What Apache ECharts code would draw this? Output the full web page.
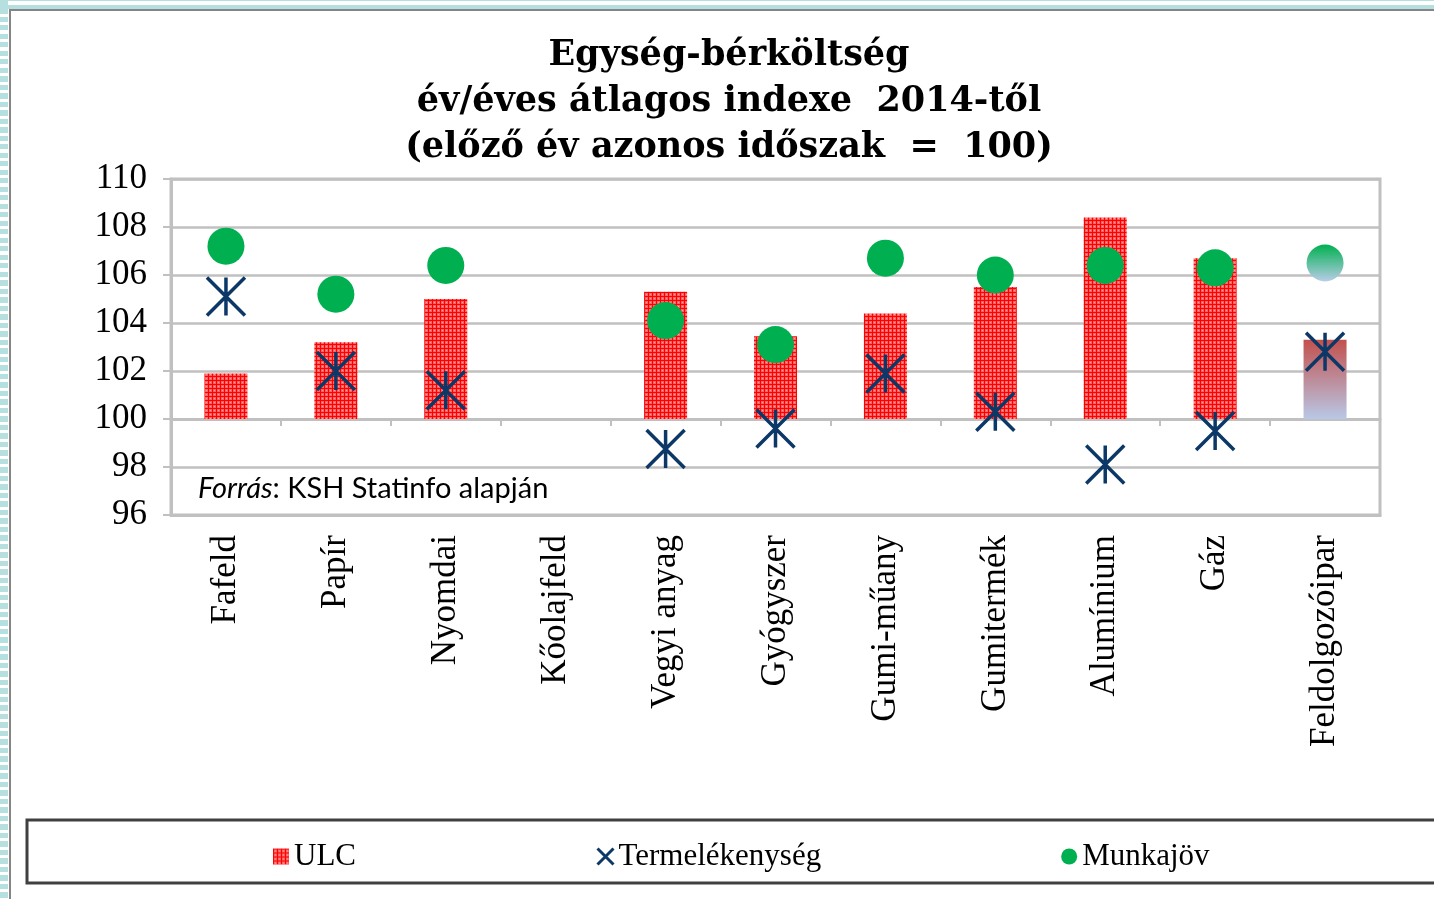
<!DOCTYPE html>
<html>
<head>
<meta charset="utf-8">
<script src="https://cdn.jsdelivr.net/npm/echarts@6/dist/echarts.min.js"></script>
<style>
    html, body { margin: 0; padding: 0; background: #fff; }
    #stripes { position: absolute; left: 0; top: 0; width: 8px; height: 899px;
        background: repeating-linear-gradient(to bottom, #b6dfe0 0 5px, #fff 5px 8.5px); }
    #topLine1 { position: absolute; left: 0; top: 0; width: 1434px; height: 1px; background: #b6dfe0; }
    #topLine2 { position: absolute; left: 0; top: 5px; width: 1434px; height: 4px; background: #b6dfe0; }
    #frame { position: absolute; left: 9px; top: 9px; width: 1430px; height: 895px;
        border-left: 2px solid #858585; border-top: 2px solid #858585; }
    #chart { position: absolute; left: 0; top: 0; width: 1434px; height: 899px; }
</style>
</head>
<body>
<div id="stripes"></div>
<div id="topLine1"></div>
<div id="topLine2"></div>
<div id="frame"></div>
<div id="chart"></div>
<script>
const categories = ['Fafeld', 'Papír', 'Nyomdai', 'Kőolajfeld', 'Vegyi anyag', 'Gyógyszer',
    'Gumi-műany', 'Gumitermék', 'Alumínium', 'Gáz', 'Feldolgozóipar'];
const ulc = [101.9, 103.2, 105.0, null, 105.3, 103.45, 104.4, 105.5, 108.4, 106.7, 103.3];
const termelekenyseg = [105.1, 102.0, 101.2, null, 98.75, 99.6, 101.9, 100.3, 98.1, 99.5, 102.8];
const munkajov = [107.2, 105.2, 106.4, null, 104.1, 103.1, 106.7, 106.0, 106.4, 106.3, 106.5];
const yMin = 96, yMax = 110, yStep = 2;
const baseValue = 100;
const titleLines = ['Egység-bérköltség', 'év/éves átlagos indexe  2014-től', '(előző év azonos időszak  =  100)'];

// piros kockás mintázat az oszlopokhoz
function makePattern() {
    const c = document.createElement('canvas');
    c.width = 4; c.height = 4;
    const ctx = c.getContext('2d');
    ctx.fillStyle = '#ff6464';
    ctx.fillRect(0, 0, 4, 4);
    ctx.fillStyle = '#ff0000';
    ctx.fillRect(0, 0, 4, 1);
    ctx.fillRect(0, 0, 1, 4);
    ctx.fillStyle = '#ffa0a0';
    ctx.fillRect(2, 2, 1, 1);
    return c;
}

const lastIdx = categories.length - 1;
const redPattern = { image: makePattern(), repeat: 'repeat' };

const baseData = ulc.map(v => v == null ? null : baseValue);
const ulcData = ulc.map((v, i) => {
    if (v == null) return null;
    if (i === lastIdx) {
        return {
            value: v - baseValue,
            itemStyle: { color: new echarts.graphic.LinearGradient(0, 0, 0, 1, [
                { offset: 0, color: '#c2504d' }, { offset: 1, color: '#b8c8e6' }]) }
        };
    }
    return v - baseValue;
});
const munkaData = munkajov.map((v, i) => {
    if (i === lastIdx) {
        return {
            value: v,
            itemStyle: { color: new echarts.graphic.LinearGradient(0, 0, 0, 1, [
                { offset: 0, color: '#00b050' }, { offset: 1, color: '#b9cde8' }]) }
        };
    }
    return v;
});

const asterisk = 'path://M0,0L10,10M10,0L0,10M5,0L5,10';
const fontSerif = '"Liberation Serif", serif';

let myChart = echarts.init(document.getElementById('chart'));

const option = {
    animation: false,
    graphic: [
        {
            type: 'text', x: 729, y: 33, silent: true,
            style: {
                text: titleLines.join('\n'), align: 'center',
                font: 'bold 35px "DejaVu Serif", serif', lineHeight: 46, fill: '#000'
            }
        },
        {
            type: 'text', x: 198, y: 474, silent: true,
            style: {
                text: '{i|Forrás}: KSH Statinfo alapján',
                font: '29px Lato, sans-serif', fill: '#000',
                rich: { i: { fontStyle: 'italic', fontSize: 29, fontFamily: 'Lato, sans-serif' } }
            }
        },
        {
            type: 'rect', silent: true,
            shape: { x: 27, y: 820, width: 1430, height: 63 },
            style: { fill: 'none', stroke: '#404040', lineWidth: 3 }
        }
    ],
    legend: {
        left: 268, top: 836, itemGap: 240,
        itemWidth: 16, itemHeight: 16,
        textStyle: { fontFamily: fontSerif, fontSize: 31, color: '#000' },
        data: [
            { name: 'ULC', icon: 'rect' },
            { name: 'Termelékenység', icon: 'path://M0,0L10,10M10,0L0,10',
              itemStyle: { color: 'rgba(0,0,0,0)', borderColor: '#0c3868', borderWidth: 3 } },
            { name: 'Munkajöv', icon: 'circle', itemStyle: { color: '#00b050' } }
        ]
    },
    grid: {
        left: 171, top: 179, right: 54, bottom: 384,
        show: true, borderColor: '#c0c0c0', borderWidth: 3, backgroundColor: '#fff'
    },
    xAxis: [
        {
            type: 'category', data: categories, position: 'bottom',
            axisLine: { lineStyle: { color: '#c0c0c0', width: 3 } },
            axisTick: { show: false },
            axisLabel: { rotate: 90, margin: 20, fontFamily: fontSerif, fontSize: 35, color: '#000', interval: 0 }
        },
        {
            type: 'category', data: categories, position: 'bottom', offset: -96,
            axisLine: { lineStyle: { color: '#c0c0c0', width: 3 } },
            axisTick: { show: true, length: 7, interval: 0, lineStyle: { color: '#c0c0c0', width: 2 } },
            axisLabel: { show: false }
        }
    ],
    yAxis: {
        type: 'value', min: yMin, max: yMax, interval: yStep,
        axisLine: { show: true, lineStyle: { color: '#c0c0c0', width: 3 } },
        axisTick: { show: true, length: 8, lineStyle: { color: '#c0c0c0', width: 2 } },
        splitLine: { lineStyle: { color: '#c0c0c0', width: 2.5 } },
        axisLabel: { margin: 24, fontFamily: fontSerif, fontSize: 35, color: '#000', padding: [6, 0, 0, 0] }
    },
    series: [
        {
            name: 'base', type: 'bar', stack: 'ulc', silent: true, barWidth: 43,
            data: baseData, itemStyle: { color: 'rgba(0,0,0,0)' }
        },
        {
            name: 'ULC', type: 'bar', stack: 'ulc', barWidth: 43,
            data: ulcData, itemStyle: { color: redPattern }
        },
        {
            name: 'Termelékenység', type: 'scatter', symbol: asterisk, symbolSize: 38,
            data: termelekenyseg, z: 4,
            itemStyle: { color: 'rgba(0,0,0,0)', borderColor: '#0c3868', borderWidth: 3.5, opacity: 1 }
        },
        {
            name: 'Munkajöv', type: 'scatter', symbol: 'circle', symbolSize: 37,
            data: munkaData, z: 3,
            itemStyle: { color: '#00b050', opacity: 1 }
        }
    ]
};

myChart.setOption(option);

window.addEventListener('resize', () => {
    if (myChart) myChart.resize();
});
</script>
</body>
</html>
